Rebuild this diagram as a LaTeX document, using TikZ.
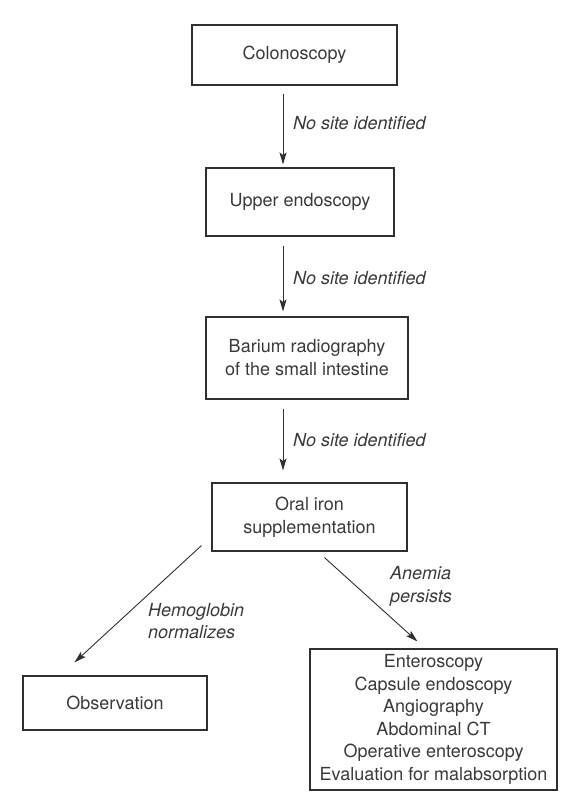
\documentclass[tikz,border=0pt]{standalone}
\usepackage{fontspec}
\setmainfont{TeX Gyre Heros}
\usetikzlibrary{arrows.meta,calc}
\definecolor{ink}{HTML}{3A3A3A}
\definecolor{rule}{HTML}{303030}

\begin{document}
\begin{tikzpicture}[x=1pt,y=-1pt,
  box/.style={draw=rule, line width=1.1pt, text=ink, align=center, inner sep=0pt,
              font=\fontsize{18}{23}\selectfont},
  flow/.style={draw=rule, line width=0.9pt,
               -{Stealth[length=12pt,width=7pt,inset=2.5pt]}},
  cond/.style={text=ink, align=left, inner sep=0pt,
               font=\fontsize{18}{22.5}\selectfont\itshape}]
\useasboundingbox[fill=white] (0,0) rectangle (566,798);

% work-up steps
\node[box, minimum width=205pt, minimum height=60pt] (colon) at (294.5,55) {Colonoscopy};
\node[box, minimum width=188pt, minimum height=68pt] (upper) at (300,202) {Upper endoscopy};
\node[box, minimum width=202pt, minimum height=82pt] (barium) at (307,358)
  {Barium radiography\\of the small intestine};
\node[box, minimum width=195pt, minimum height=68pt] (iron) at (309.5,517)
  {Oral iron\\supplementation};
\node[box, minimum width=184pt, minimum height=54pt] (obs) at (115,703) {Observation};
\node[box, minimum width=247pt, minimum height=141pt, font=\fontsize{18}{22.5}\selectfont]
  (further) at (433.5,719.5)
  {Enteroscopy\\Capsule endoscopy\\Angiography\\Abdominal CT\\Operative enteroscopy\\Evaluation for malabsorption};

% vertical line of the main sequence
\coordinate (spine) at (283,0);

\draw[flow] ($(colon.south -| spine)+(0,8)$) -- ($(upper.north -| spine)+(0,-3)$);
\draw[flow] ($(upper.south -| spine)+(0,9)$) -- ($(barium.north -| spine)+(0,-5)$);
\draw[flow] ($(barium.south -| spine)+(0,9)$) -- ($(iron.north -| spine)+(0,-12)$);

\node[cond, anchor=west] (n1) at (293,123) {No site identified};
\node[cond, anchor=west] (n2) at (293,278) {No site identified};
\node[cond, anchor=west] (n3) at (293,440) {No site identified};

% branches after iron therapy
\draw[flow] ($(iron.south west)+(-10,-6)$) -- ($(obs.north west)+(52,-13)$);
\draw[flow] ($(iron.south west)+(113,6)$) -- ($(further.north west)+(108,-7)$);

\node[cond, anchor=west] (hb) at (148,621) {Hemoglobin\\normalizes};
\node[cond, anchor=west] (an) at (390,586.5) {Anemia\\persists};
\end{tikzpicture}
\end{document}
